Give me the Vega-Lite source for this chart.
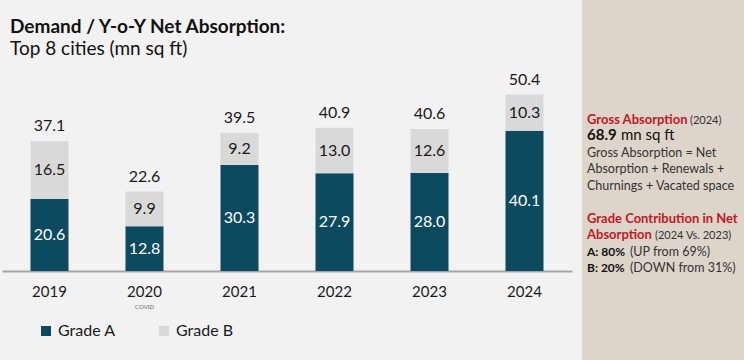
{
  "$schema": "https://vega.github.io/schema/vega-lite/v6.json",
  "background": "#f2f2f2",
  "padding": {"left": 2, "top": 0, "right": 0, "bottom": 0},
  "autosize": {"type": "pad"},
  "spacing": 10,
  "config": {"view": {"stroke": null}, "font": "Lato"},
  "datasets": {
    "bars": [
      {"year": "2019", "grade": "Grade A", "value": 20.6},
      {"year": "2019", "grade": "Grade B", "value": 16.5},
      {"year": "2020", "grade": "Grade A", "value": 12.8},
      {"year": "2020", "grade": "Grade B", "value": 9.9},
      {"year": "2021", "grade": "Grade A", "value": 30.3},
      {"year": "2021", "grade": "Grade B", "value": 9.2},
      {"year": "2022", "grade": "Grade A", "value": 27.9},
      {"year": "2022", "grade": "Grade B", "value": 13.0},
      {"year": "2023", "grade": "Grade A", "value": 28.0},
      {"year": "2023", "grade": "Grade B", "value": 12.6},
      {"year": "2024", "grade": "Grade A", "value": 40.1},
      {"year": "2024", "grade": "Grade B", "value": 10.3}
    ],
    "totals": [
      {"year": "2019", "total": 37.1},
      {"year": "2020", "total": 22.6},
      {"year": "2021", "total": 39.5},
      {"year": "2022", "total": 40.9},
      {"year": "2023", "total": 40.6},
      {"year": "2024", "total": 50.4}
    ],
    "notes": [
      {"year": "2020", "note": "COVID"}
    ],
    "panel": [
      {"line": 0, "part": "head", "text": "Gross Absorption"},
      {"line": 0, "part": "tail", "text": "(2024)"},
      {"line": 1, "part": "head", "text": "68.9"},
      {"line": 1, "part": "tail", "text": "mn sq ft"},
      {"line": 2, "part": "body", "text": "Gross Absorption = Net"},
      {"line": 3, "part": "body", "text": "Absorption + Renewals +"},
      {"line": 4, "part": "body", "text": "Churnings + Vacated space"},
      {"line": 6, "part": "head", "text": "Grade Contribution in Net"},
      {"line": 7, "part": "head", "text": "Absorption"},
      {"line": 7, "part": "tail", "text": "(2024 Vs. 2023)"},
      {"line": 8, "part": "head", "text": "A: 80%"},
      {"line": 8, "part": "tail", "text": "(UP from 69%)"},
      {"line": 9, "part": "head", "text": "B: 20%"},
      {"line": 9, "part": "tail", "text": "(DOWN from 31%)"}
    ]
  },
  "hconcat": [
    {
      "width": 570,
      "height": 271,
      "title": {
        "text": "Demand / Y-o-Y Net Absorption:",
        "subtitle": "Top 8 cities (mn sq ft)",
        "anchor": "start",
        "frame": "group",
        "offset": -59,
        "dx": 8,
        "font": "Lato",
        "fontSize": 19,
        "fontWeight": "bold",
        "color": "#111111",
        "subtitleFont": "Lato",
        "subtitleFontSize": 19,
        "subtitleColor": "#111111",
        "subtitlePadding": 3
      },
      "data": {"name": "bars"},
      "layer": [
        {
          "mark": {"type": "bar"},
          "encoding": {
            "x": {
              "field": "year",
              "type": "nominal",
              "scale": {"paddingInner": 0.6, "paddingOuter": 0.3},
              "axis": {
                "title": null,
                "labelAngle": 0,
                "labelFont": "Lato",
                "labelFontSize": 15,
                "labelColor": "#1a1a1a",
                "ticks": false,
                "domainColor": "#a6a6a6",
                "domainWidth": 2,
                "labelPadding": 13
              }
            },
            "y": {
              "field": "value",
              "type": "quantitative",
              "stack": "zero",
              "scale": {"domain": [0, 77.43], "nice": false},
              "axis": null
            },
            "order": {"field": "grade", "sort": "ascending"},
            "color": {
              "field": "grade",
              "type": "nominal",
              "scale": {"domain": ["Grade A", "Grade B"], "range": ["#0c4a60", "#d9d9d9"]},
              "legend": {
                "title": null,
                "orient": "none",
                "legendX": 36,
                "legendY": 323,
                "direction": "horizontal",
                "symbolType": "square",
                "symbolSize": 100,
                "symbolStrokeWidth": 0,
                "labelFont": "Lato",
                "labelFontSize": 16,
                "labelColor": "#1a1a1a",
                "labelOffset": 4,
                "columnPadding": 40
              }
            }
          }
        },
        {
          "mark": {"type": "text", "fontSize": 16, "baseline": "middle", "font": "Lato"},
          "encoding": {
            "x": {"field": "year", "type": "nominal"},
            "y": {"field": "value", "type": "quantitative", "stack": "zero", "bandPosition": 0.5},
            "order": {"field": "grade", "sort": "ascending"},
            "detail": {"field": "grade"},
            "text": {"field": "value", "type": "quantitative", "format": ".1f"},
            "color": {
              "condition": {"test": "datum.grade === 'Grade A'", "value": "#ffffff"},
              "value": "#1a1a1a"
            }
          }
        },
        {
          "data": {"name": "totals"},
          "mark": {"type": "text", "fontSize": 16, "baseline": "middle", "dy": -15, "color": "#1a1a1a", "font": "Lato"},
          "encoding": {
            "x": {"field": "year", "type": "nominal"},
            "y": {"field": "total", "type": "quantitative"},
            "text": {"field": "total", "type": "quantitative", "format": ".1f"}
          }
        },
        {
          "data": {"name": "notes"},
          "mark": {"type": "text", "fontSize": 6, "baseline": "middle", "dy": 36, "color": "#666666", "font": "Lato"},
          "encoding": {
            "x": {"field": "year", "type": "nominal"},
            "y": {"datum": 0, "type": "quantitative"},
            "text": {"field": "note"}
          }
        }
      ]
    },
    {
      "width": 162,
      "height": 360,
      "view": {"fill": "#ddd5ca", "stroke": null},
      "data": {"name": "panel"},
      "encoding": {
        "y": {"field": "line", "type": "quantitative", "scale": {"domain": [0, 9], "range": [124, 272]}, "axis": null}
      },
      "layer": [
        {
          "transform": [{"filter": "datum.part === 'head' && (datum.line === 0 || datum.line === 6 || datum.line === 7)"}],
          "mark": {"type": "text", "align": "left", "baseline": "alphabetic", "x": 5, "font": "Lato", "fontSize": 13, "fontWeight": "bold", "color": "#c4171f"},
          "encoding": {"text": {"field": "text"}}
        },
        {
          "transform": [{"filter": "datum.part === 'tail' && datum.line === 0"}],
          "mark": {"type": "text", "align": "left", "baseline": "alphabetic", "x": 108, "font": "Lato", "fontSize": 11, "color": "#333333"},
          "encoding": {"text": {"field": "text"}}
        },
        {
          "transform": [{"filter": "datum.part === 'head' && datum.line === 1"}],
          "mark": {"type": "text", "align": "left", "baseline": "alphabetic", "x": 5, "font": "Lato", "fontSize": 15, "fontWeight": "bold", "color": "#111111"},
          "encoding": {"text": {"field": "text"}}
        },
        {
          "transform": [{"filter": "datum.part === 'tail' && datum.line === 1"}],
          "mark": {"type": "text", "align": "left", "baseline": "alphabetic", "x": 39, "font": "Lato", "fontSize": 15, "color": "#111111"},
          "encoding": {"text": {"field": "text"}}
        },
        {
          "transform": [{"filter": "datum.part === 'body'"}],
          "mark": {"type": "text", "align": "left", "baseline": "alphabetic", "x": 5, "font": "Lato", "fontSize": 12.5, "color": "#333333"},
          "encoding": {"text": {"field": "text"}}
        },
        {
          "transform": [{"filter": "datum.part === 'tail' && datum.line === 7"}],
          "mark": {"type": "text", "align": "left", "baseline": "alphabetic", "x": 73, "font": "Lato", "fontSize": 11, "color": "#333333"},
          "encoding": {"text": {"field": "text"}}
        },
        {
          "transform": [{"filter": "datum.part === 'head' && (datum.line === 8 || datum.line === 9)"}],
          "mark": {"type": "text", "align": "left", "baseline": "alphabetic", "x": 5, "font": "Lato", "fontSize": 12, "fontWeight": "bold", "color": "#111111"},
          "encoding": {"text": {"field": "text"}}
        },
        {
          "transform": [{"filter": "datum.part === 'tail' && (datum.line === 8 || datum.line === 9)"}],
          "mark": {"type": "text", "align": "left", "baseline": "alphabetic", "x": 48, "font": "Lato", "fontSize": 12.5, "color": "#333333"},
          "encoding": {"text": {"field": "text"}}
        }
      ]
    }
  ]
}
